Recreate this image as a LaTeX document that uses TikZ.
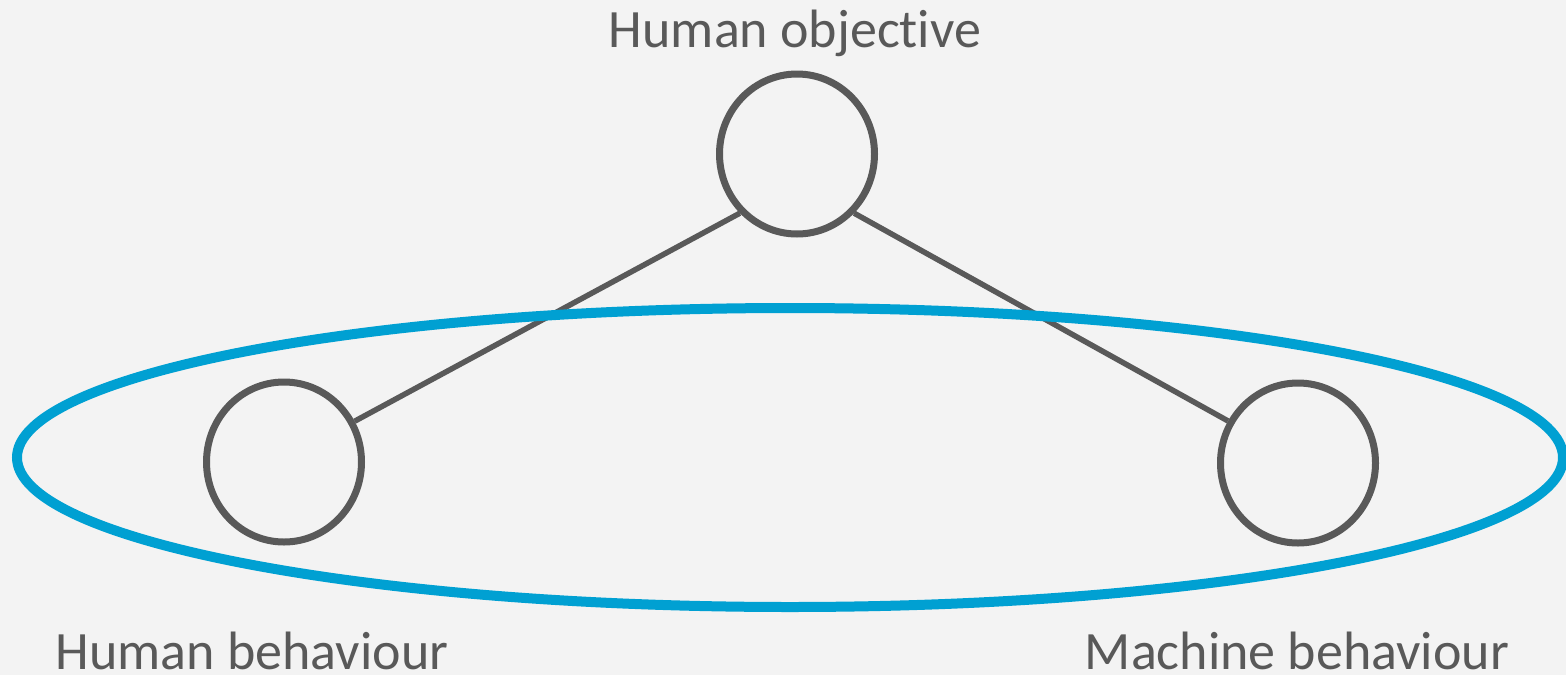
\documentclass[tikz,border=0pt]{standalone}
\usepackage{fontspec}
\setmainfont{Carlito}[Ligatures=NoCommon]
\usetikzlibrary{shapes.geometric}
\definecolor{bg}{HTML}{F3F3F3}
\definecolor{ink}{HTML}{595959}
\definecolor{ring}{HTML}{00A0D2}
\begin{document}
\begin{tikzpicture}[x=1pt,y=-1pt,
  var/.style={ellipse,draw=ink,line width=7pt,minimum width=155pt,minimum height=160pt,inner sep=0pt},
  link/.style={draw=ink,line width=5.5pt},
  lab/.style={anchor=base,text=ink,font=\fontsize{54}{60}\selectfont,inner sep=0pt}]
\fill[bg] (0,0) rectangle (1566,675);
\useasboundingbox (0,0) rectangle (1566,675);
\node[var] (obj) at (797,154) {};
\node[var] (hb) at (284,462) {};
\node[var] (mb) at (1298,463) {};
\draw[link] (obj.226) -- (hb.30);
\draw[link] (obj.314) -- (mb.149);
\node[ellipse,draw=ring,line width=10pt,minimum width=1546pt,minimum height=299pt,inner sep=0pt] (grp) at (790,457.5) {};
\node[lab] (tobj) at (795,47) {Human objective};
\node[lab] (thb) at (252,669) {Human behaviour};
\node[lab] (tmb) at (1297,669) {Machine behaviour};
\end{tikzpicture}
\end{document}
